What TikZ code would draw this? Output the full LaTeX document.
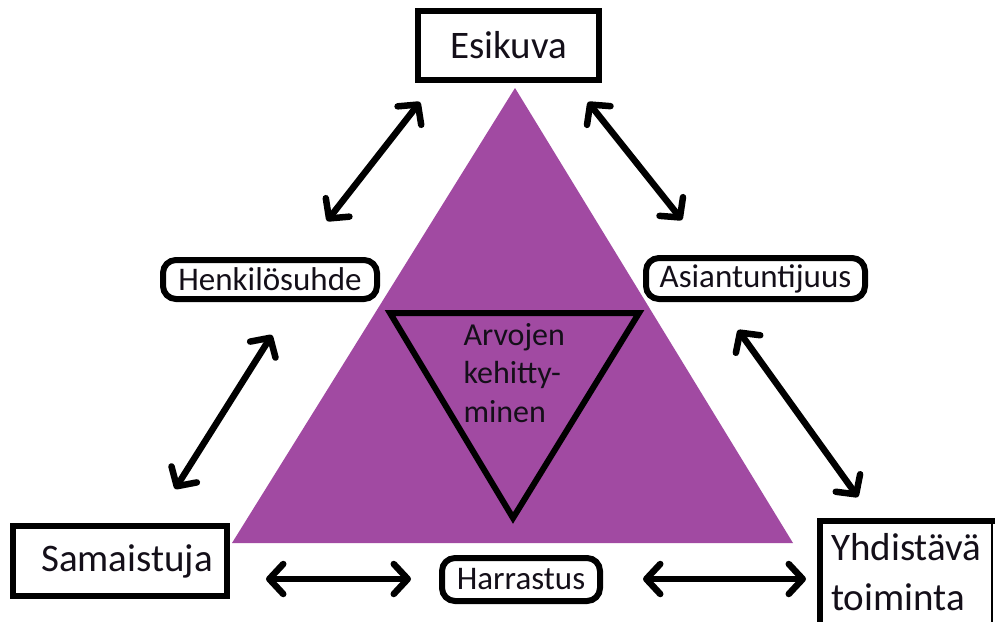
\documentclass[tikz,border=0pt]{standalone}
\usepackage{fontspec}
\setmainfont{Carlito}
\usetikzlibrary{arrows.meta}
\definecolor{tripurple}{RGB}{161,74,162}
\definecolor{ink}{RGB}{20,15,25}
\begin{document}
\begin{tikzpicture}[x=1pt,y=-1pt,
  bigfont/.style={font=\fontsize{39}{46}\selectfont},
  smallfont/.style={font=\fontsize{33}{39}\selectfont},
  sqbox/.style={draw=black, line width=6pt, fill=white, inner sep=0pt, text=ink, bigfont},
  rndbox/.style={draw=black, line width=6pt, fill=white, rounded corners=13pt, inner sep=0pt, text=ink, smallfont},
  dblarrow/.style={line width=6.5pt, line cap=round,
    {Straight Barb[length=14pt,width=30pt,round]}-{Straight Barb[length=14pt,width=30pt,round]}}
]
\useasboundingbox (0,0) rectangle (995,621);
\fill[white] (0,0) rectangle (995,621);

% purple triangle
\fill[tripurple] (515,88) -- (793,543) -- (232,543) -- cycle;
% inner inverted triangle
\draw[line width=6pt, line join=miter] (390,313) -- (639,313) -- (513,518) -- cycle;
\node[anchor=west, align=left, text=ink, font=\fontsize{32}{38.5}\selectfont] (centre) at (460,373)
  {Arvojen\\kehitty-\\minen};

% boxes
\node[sqbox, minimum width=181pt, minimum height=69pt] (esikuva) at (508.5,45.5) {Esikuva};
\node[sqbox, minimum width=214pt, minimum height=70pt, text width=200pt, align=right] (sama) at (120,561) {Samaistuja\hspace*{7pt}};
\node[rndbox, minimum width=214pt, minimum height=39pt] (henk) at (270,279.5) {Henkilösuhde};
\node[rndbox, minimum width=219pt, minimum height=41pt] (asian) at (755.5,278.5) {Asiantuntijuus};
\node[rndbox, minimum width=158pt, minimum height=43pt] (harr) at (521,579.5) {Harrastus};

% Yhdistävä toiminta box (extends beyond the lower edge)
\coordinate (ytl) at (820,521);
\coordinate (ytr) at (992,521);
\coordinate (ybl) at (820,640);
\coordinate (ybr) at (992,640);
\fill[white] (ytl) rectangle (ybr);
\draw[line width=6pt, line cap=rect] (ybl) -- (ytl) -- (ytr);
\draw[line width=1.2pt] (ytr) -- (ybr);
\node[anchor=west, align=left, text=ink, font=\fontsize{39}{50}\selectfont, inner sep=0pt] (yhd) at (831,572)
  {Yhdistävä\\toiminta};

% arrow end points
\coordinate (a1s) at (420,102); \coordinate (a1e) at (327,221);
\coordinate (a2s) at (588,102); \coordinate (a2e) at (682,220);
\coordinate (a3s) at (272,335); \coordinate (a3e) at (175,489);
\coordinate (a4s) at (738,330); \coordinate (a4e) at (858,497);
\coordinate (a5s) at (266,579); \coordinate (a5e) at (411,579);
\coordinate (a6s) at (643,579); \coordinate (a6e) at (806,579);

\draw[dblarrow] (a1s) -- (a1e);
\draw[dblarrow] (a2s) -- (a2e);
\draw[dblarrow] (a3s) -- (a3e);
\draw[dblarrow] (a4s) -- (a4e);
\draw[dblarrow] (a5s) -- (a5e);
\draw[dblarrow] (a6s) -- (a6e);
\end{tikzpicture}
\end{document}
